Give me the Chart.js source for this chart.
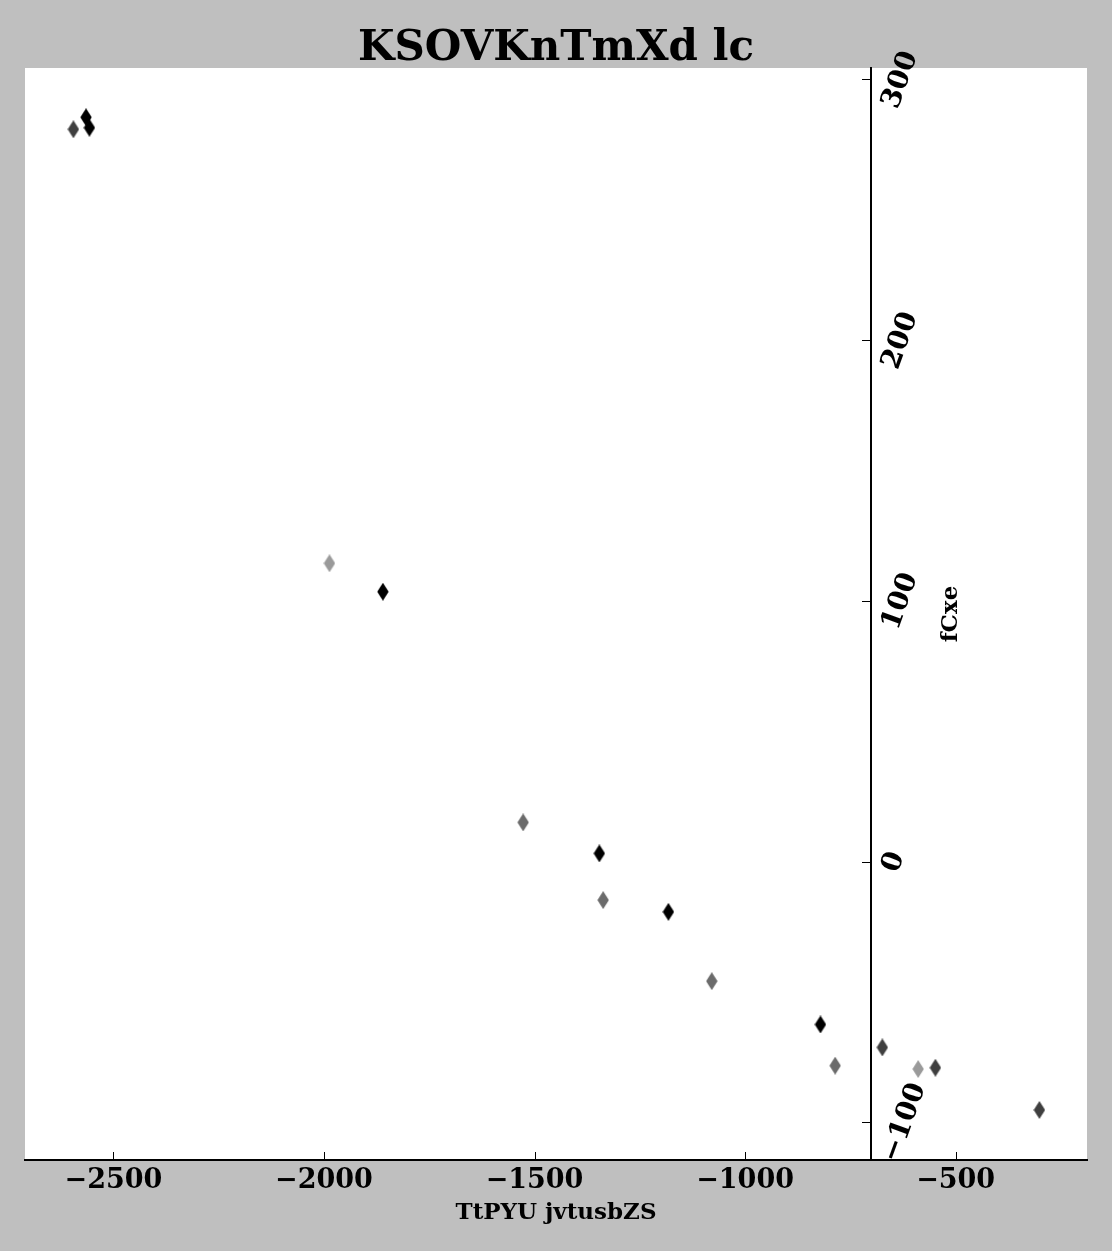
<!DOCTYPE html>
<html>
<head>
<meta charset="utf-8">
<script src="https://cdn.jsdelivr.net/npm/chart.js@4.4.1/dist/chart.umd.min.js"></script>
<style>
  html, body { margin: 0; padding: 0; background: #bfbfbf; }
  canvas { display: block; }
</style>
</head>
<body>
<canvas id="chart" width="1112" height="1251"></canvas>
<script>
const chartTitle = "KSOVKnTmXd lc";
const xTitle = "TtPYU jvtusbZS";
const yTitle = "fCxe";

// axis setup
const xMin = -2710, xMax = -188;
const yMin = -114.3, yMax = 304.6;
const xTicks = [-2500, -2000, -1500, -1000, -500];
const yTicks = [-100, 0, 100, 200, 300];
const yAxisAt = -700;

// points, grouped by marker shade
const blackX = [-2565, -2557, -1860, -1346, -1182, -821];
const blackY = [285.7, 281.7, 103.7, 3.3, -19.1, -62.3];
const darkX = [-2595, -674, -548, -301];
const darkY = [281.1, -71.1, -78.9, -95.1];
const midX = [-1527, -1337, -1079, -786];
const midY = [15.2, -14.6, -45.7, -78.1];
const lightX = [-1987, -589];
const lightY = [114.6, -79.4];

const serif = "'DejaVu Serif', serif";

function pts(xs, ys) {
  return xs.map((x, i) => ({x: x, y: ys[i]}));
}

// tall thin diamond marker
function diamond(color) {
  const c = document.createElement("canvas");
  c.width = 12;
  c.height = 18;
  const g = c.getContext("2d");
  g.fillStyle = color;
  g.beginPath();
  g.moveTo(6, 0);
  g.lineTo(11.7, 9);
  g.lineTo(6, 18);
  g.lineTo(0.3, 9);
  g.closePath();
  g.fill();
  return c;
}

function minus(v) {
  return String(v).replace("-", "\u2212");
}

function series(label, xs, ys, color) {
  return {
    label: label,
    data: pts(xs, ys),
    pointStyle: diamond(color),
    backgroundColor: color,
    borderColor: color
  };
}

const frame = {
  id: "frame",
  beforeDraw(chart) {
    const {ctx, chartArea: a} = chart;
    ctx.save();
    ctx.fillStyle = "#bfbfbf";
    ctx.fillRect(0, 0, chart.width, chart.height);
    ctx.fillStyle = "#ffffff";
    ctx.fillRect(a.left, a.top, a.right - a.left, a.bottom - a.top);
    ctx.restore();
  },
  afterDraw(chart) {
    const {ctx, chartArea: a, scales: {x, y}} = chart;
    ctx.save();
    // x ticks point inward
    ctx.strokeStyle = "#000";
    ctx.lineWidth = 1;
    x.ticks.forEach(t => {
      const px = Math.round(x.getPixelForValue(t.value)) + 0.5;
      ctx.beginPath();
      ctx.moveTo(px, a.bottom);
      ctx.lineTo(px, a.bottom - 8);
      ctx.stroke();
    });

    // rotated y tick labels, right of the axis line
    const ax = x.getPixelForValue(yAxisAt);
    const ang = 70 * Math.PI / 180;
    ctx.font = "bold 28px " + serif;
    ctx.fillStyle = "#000";
    ctx.textAlign = "center";
    ctx.textBaseline = "middle";
    y.ticks.forEach(t => {
      const txt = minus(t.value);
      const w = ctx.measureText(txt).width;
      const bw = w * Math.cos(ang) + 28 * Math.sin(ang);
      const py = y.getPixelForValue(t.value);
      ctx.save();
      ctx.translate(ax + 6 + bw / 2, py);
      ctx.rotate(-ang);
      ctx.fillText(txt, 0, 0);
      ctx.restore();
    });

    // y axis title
    ctx.save();
    ctx.font = "bold 23px " + serif;
    ctx.translate(ax + 80, (a.top + a.bottom) / 2);
    ctx.rotate(-Math.PI / 2);
    ctx.fillText(yTitle, 0, 0);
    ctx.restore();

    // chart title
    ctx.font = "bold 42px " + serif;
    ctx.textBaseline = "alphabetic";
    ctx.fillText(chartTitle, (a.left + a.right) / 2, 60);
    ctx.restore();
  }
};

new Chart(document.getElementById("chart"), {
  type: "scatter",
  data: {
    datasets: [
      series("black", blackX, blackY, "#000000"),
      series("dark", darkX, darkY, "#3f3f3f"),
      series("mid", midX, midY, "#6b6b6b"),
      series("light", lightX, lightY, "#9a9a9a")
    ]
  },
  options: {
    responsive: false,
    animation: false,
    layout: {padding: {left: 25, right: 25, top: 68, bottom: 0}},
    plugins: {
      legend: {display: false},
      tooltip: {enabled: false},
      title: {display: false}
    },
    scales: {
      x: {
        type: "linear",
        min: xMin,
        max: xMax,
        grid: {display: false},
        border: {display: true, color: "#000", width: 2},
        ticks: {
          color: "#000",
          padding: -3,
          font: {family: serif, weight: "bold", size: 27},
          callback: v => minus(v)
        },
        afterBuildTicks(scale) {
          scale.ticks = xTicks.map(v => ({value: v}));
        },
        title: {
          display: true,
          text: xTitle,
          color: "#000",
          font: {family: serif, weight: "bold", size: 23},
          padding: {top: 0, bottom: 24}
        },
        afterFit(scale) { scale.height = 91; }
      },
      y: {
        type: "linear",
        min: yMin,
        max: yMax,
        position: {x: yAxisAt},
        grid: {display: true, drawOnChartArea: false, drawTicks: true, tickLength: 8, color: "#000", lineWidth: 1},
        border: {display: true, color: "#000", width: 2},
        ticks: {display: false},
        afterBuildTicks(scale) {
          scale.ticks = yTicks.map(v => ({value: v}));
        }
      }
    }
  },
  plugins: [frame]
});
</script>
</body>
</html>
